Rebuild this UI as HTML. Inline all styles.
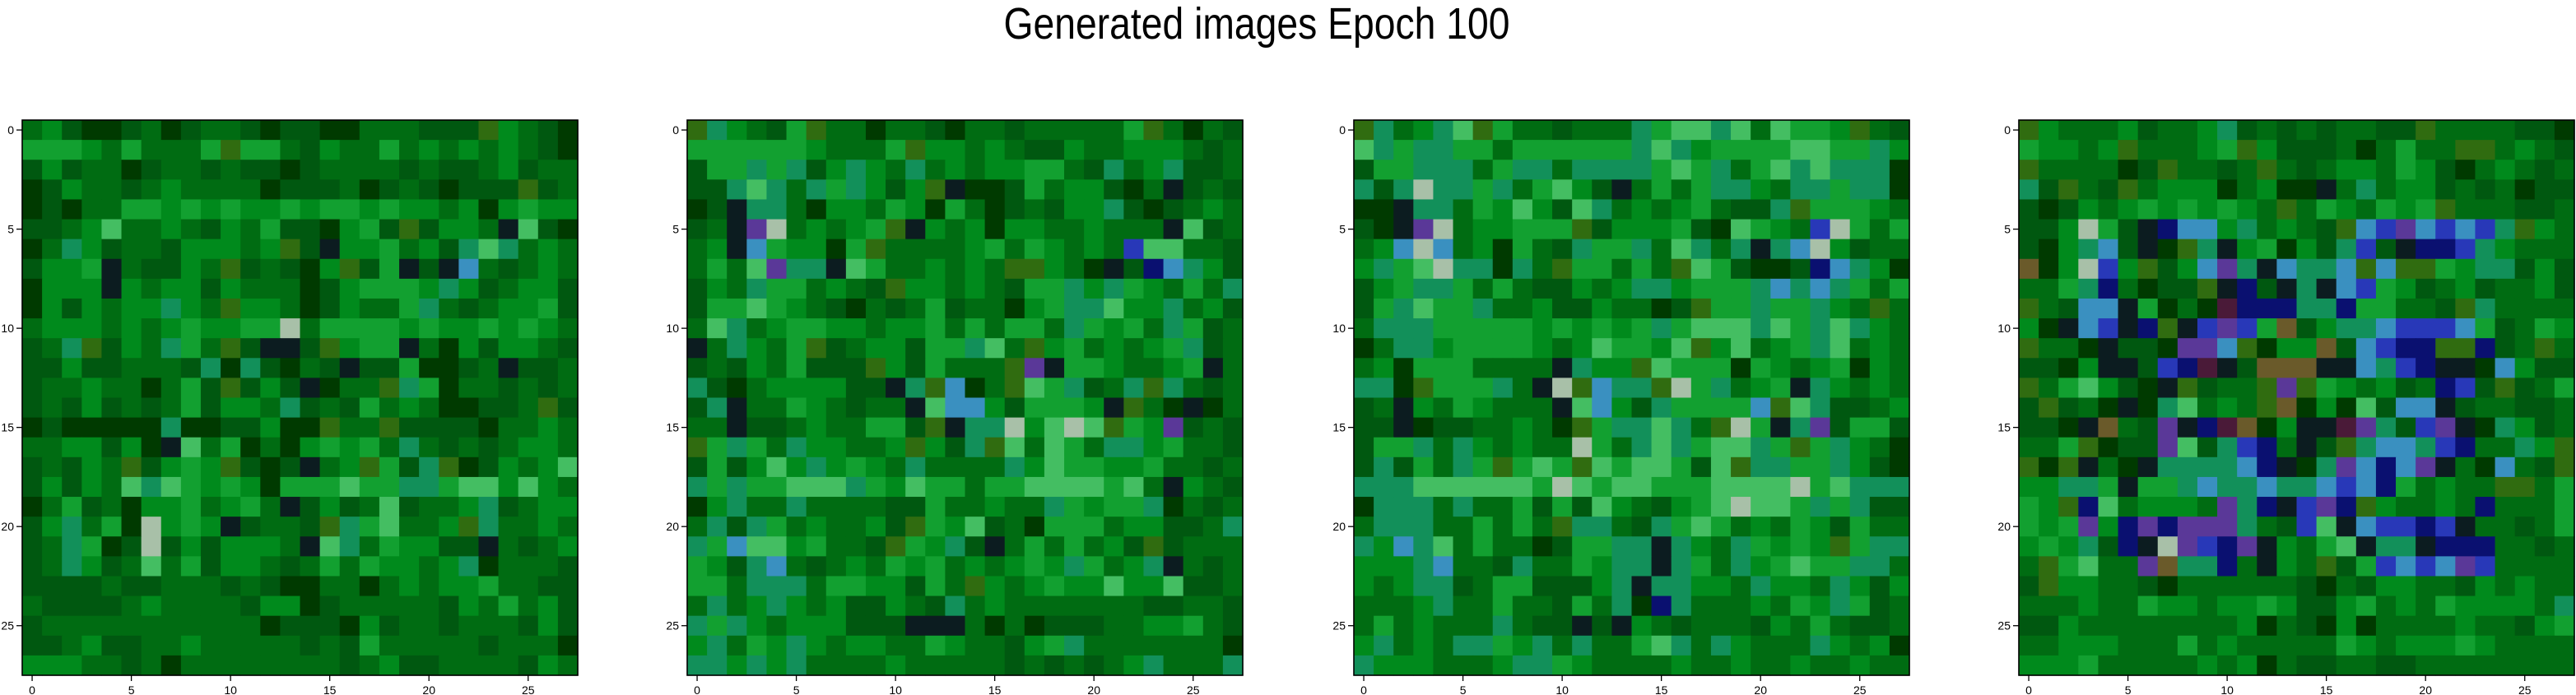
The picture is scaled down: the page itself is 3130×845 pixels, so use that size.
<!DOCTYPE html>
<html><head><meta charset="utf-8"><title>Generated images Epoch 100</title>
<style>html,body{margin:0;padding:0;background:#fff;}svg{display:block;}</style></head>
<body>
<svg id="fig" width="3130" height="845" xmlns="http://www.w3.org/2000/svg">
<rect width="3130" height="845" fill="#fff"/>
<text x="1527" y="47" font-family="Liberation Sans, DejaVu Sans, sans-serif" font-size="54" text-anchor="middle" textLength="615" lengthAdjust="spacingAndGlyphs">Generated images Epoch 100</text>
</svg>
<script>
// palette codes -> colours
const paletteKeys = ['d','a','b','g','c','e','t','k','p','n','m','w','y','s','o','h'];
const paletteColors = ['#003a00','#005810','#006c12','#008a1c','#12a030','#44be62','#12905a','#0c1c20','#2838b8','#0a1070','#5a3898','#a8c0a8','#306c10','#3a90c0','#4a1a38','#6a5a2a'];
const tickValues = [0,5,10,15,20,25];
const gridSize = 28;
const panelLefts = [27, 835, 1645, 2453];
const img1 = [
"bgaddabdabbadaaddbbbaaaygbad","cccgbcbbbcyccbagbbcbgbgbgbad","agabbdabbabaadabbbbabaabgabb","dagbbabgbbbbdaaabdabadaaaya",
"dadbbccgcgcggcgccgcggbgdgcgg","aabgebbgbagbcaadgcayaggbkead","dbtgabbagggbgyakggcbgatetbgb","aggckbaagbyabadgyackaksbabgb",
"dgggkgbggagbbbdagcccgtgabgga","dgagbggtgbyggbdagbbctbabggca","bgggbgbgcggccwbccccgcggcgcgb","abtyagbtcbyakkaygcckbdgaggba",
"aagaabbbatdtadbakaacddabkaab","abbgbbdbcayagakdbbytcdbbabab","abagababcaggbtabacbgbddaabya","dadddddtddaagddybbyaaaadbbgb",
"bbggagdkebcdbdgcgcbtbababggb","abagbyagcgyadakbgycatydagbge","agagbetecgcgdccceccttceegegbb","dbcabdggcbgcbkagabeabbgtabgg",
"agtbcdwgcgkabbaytcebbgytbbgb","abtcdawagagggbketbcggaakbabg","abtgabebcaggbabcbcggbgtdbbba","aaaabaabbbabaddbbdbgbggcbbaa",
"baaaabgbbbbaggdabbbbbagbcbga","abbbbbbbbbbbdaaadgabbabbbaga","aabgaabbgbbbbbabacbbbbbabbbd","gggbbabdbbbbbbbbabgaabbbbagb"];
const img2 = [
"ytgbacybbdbbadbbabbbbbcybdba","ccccccgbbbcyggbgbaagbbgggbab","acctctagtgbtbgbggccbatbgtaab","aatetbtctgagykddacbggadbkaba",
"dakttbdggbcgdcbdabaggtadabgb","abkmwbgbgcykgbgdggbbgbbbkeab","bgkscggdcybbbbgcbcgbgbpeebba","bcbemttkecbbgbgbyygbdkanstga",
"agbtccbgbayggbgbacctgtcgbcbt","accecgbadbabcabbdgctteggtbga","betbgccggbggcbcbccbtcgcbtcab","kbtgbcyabggacctebygcbgbgctab",
"abagbcaaaygacbbbymkccgbbgckb","tadbggggaaktysdbyectabtytbab","atkbbcgbabbkessgacccgkybdkdb","bbkaabgbbccaykttwgeweycgmaba",
"yctcbtggbbgygatyebecbttgcbba","acagegtgcgbtbbbbtgeccggcbbab","tctcceeetcgeccbcceeeecebkgba","dgtbbtbbbbaacbbgbbtcgcctdbab",
"btatcbgbbgaycgeabdcccbggaabt","tcseegcbbaycgtakbcbcbgayabbb","cgatsbabgbcgcbgbgcgtcbgtkbab","ccbtttbccggacbygbgcggeggeaab",
"btbgtgbgaagbatbgbbbbbbbaabba","tctgbgggaaakkkbdbdaaabbggcba","gtbcgtgbggbbcgbbagctbbbbbbbd","ttgtgtbbbbgbbbbbabababgtbbbt"];
const img3 = [
"ytbgteycbbabbbtceetebeccgyba","etcttccbcccccctetgcccceecctg","acctttbcttbttttcectbcetetttd","tatwttctbcegakbcbcttgbttcttd",
"ddkttbcgegaetbgbgcbaatycccgb","adkmwbggcccyagggcadecgbpwcbc","bgswsbgdcbatcctbetbtktswgabb","gtcewttdtbyccbcbyecaddanstgd",
"agcttcbcbaagbgttgccctststcbc","actecctbbgaagbbdaycctcctgby","btttcccccgcgcgctceeetectetgb","dbttgccccgbgeccgeygebgctebgb",
"bgdcccbbbbktggyecccdcgbgcdgb","ttdyccctbkwysttywctbgcktgbgbb","abkgbcgbbbkesgatccccsyetaabg","aakdaabbgbdycttetbywcktmaccaa",
"acctbtgbgbbwcbtetceetcyctgbd","atacbtcycecyeceecaeyttcctgad","ttteeeeeecweceeccceeeewcetttd","dtttbtbbcacaegbagceweectctaad",
"btttbbcbcbyttbatcecbgbcgacbb","tgstebcbbdaccttktgbtcgcgycttb","gggtsbbatbbcgttktcbtgceccttb","gbgttabccaaagtkttggbtggbtgag",
"bbbgtbbcbbacbtdntbbbgbcgtcab","bcbgbbbtbaakakgbabbbagbcbaab","gtbgbttcgtbtbbcetbtgbbbtgbgd","tgggbbbgttcgbbbbgbbgbbgbbgbb"];
const img4 = [
"ygbbbgabbgtabababbaaybbbbaad","cggbgybbbgcygaaabdbcbbyybgbad","ybbbbdaybbabybabggbcgadbgbab","taybaybgggdbgddkbtbggababdaa",
"adagbgcgcgcgbybcgbcgcybbbaab","aagwcaknssgtbgbayspmspsptygb","adgtsakdytkgcdgatpaknnptgbbb","hdgwpgyagsmtksttsysyycgttagad",
"bbctnbdaayknaktkspcgabgabbgab","ybasskcdbdonnnttnccbbaytbbbb","gdkspknykpmpchagttspppscabcgb","ybbdkaadmmsydgghaspnnyynabybb",
"aadgkkapnokahhhkkstpnkkdsgaab","ybcegadkyabbymycgbgabnpayabcb","ayabdkdtebgbyhdgdeasskabbaab","aadkhbamknohdgkkomtapmkdtgabb",
"bbcydaameatpnbkaytsstpnbbtgyg","ydykbdkttttsnkdtmsnsmkbdsbayb","ggttckcctsttsttspsncbgbbyybc","cgynebgggbmtnkpmnygbbgbnbbbc",
"cgcmgnmnmmmtbapeksppnpkbbabc","gcgtankwmpnmkgbcekttknnnbbabb","bycebbmhttnbkgbyacpspsmpbbbbb","ayggbbadbbbbbbadbaggbbagbgbba",
"bbbgbbcggbggcgaagcbgbcggggbt","aagbbbbbbbbgdbadgdbbbbgbbagc","bbgggbbbcbgbbbbbcgbgggcgbbbba","gggcbbbbbgbgdbaabbaabbbbbbbbab"];
const panels = [img1, img2, img3, img4];

const svg = document.getElementById('fig');
const NS = 'http://www.w3.org/2000/svg';
const W = 675;
const cell = W / gridSize;
const top0 = 146;
function colorOf(ch){ const i = paletteKeys.indexOf(ch); return i < 0 ? paletteColors[2] : paletteColors[i]; }
function xPos(left, v){ return left + (v + 0.5) * cell; }
function yPos(v){ return top0 + (v + 0.5) * cell; }

panels.forEach((rows, p) => {
  const left = panelLefts[p];
  const g = document.createElementNS(NS, 'g');
  
  
  svg.appendChild(g);
  for (let r = 0; r < gridSize; r++) {
    const row = rows[r] || '';
    for (let c = 0; c < gridSize; c++) {
      const ch = row[c] || 'b';
      const rect = document.createElementNS(NS, 'rect');
      rect.setAttribute('x', (left + c * cell).toFixed(2));
      rect.setAttribute('y', (top0 + r * cell).toFixed(2));
      rect.setAttribute('width', (cell + 0.6).toFixed(2));
      rect.setAttribute('height', (cell + 0.6).toFixed(2));
      rect.setAttribute('fill', colorOf(ch));
      
      
      g.appendChild(rect);
    }
  }
  const frame = document.createElementNS(NS, 'rect');
  frame.setAttribute('x', left); frame.setAttribute('y', top0);
  frame.setAttribute('width', W); frame.setAttribute('height', W);
  frame.setAttribute('fill', 'none'); frame.setAttribute('stroke', '#000'); frame.setAttribute('stroke-width', '1.6');
  
  
  g.appendChild(frame);
  tickValues.forEach(v => {
    const tx = xPos(left, v), ty = yPos(v);
    const xt = document.createElementNS(NS, 'line');
    xt.setAttribute('x1', tx); xt.setAttribute('x2', tx);
    xt.setAttribute('y1', top0 + W); xt.setAttribute('y2', top0 + W + 7);
    xt.setAttribute('stroke', '#000'); xt.setAttribute('stroke-width', '1.3');
    
    
    g.appendChild(xt);
    const xl = document.createElementNS(NS, 'text');
    xl.setAttribute('x', tx); xl.setAttribute('y', top0 + W + 23);
    xl.setAttribute('text-anchor', 'middle'); xl.setAttribute('font-size', '14');
    xl.setAttribute('font-family', 'Liberation Sans, DejaVu Sans, sans-serif');
    xl.textContent = v;
    
    
    g.appendChild(xl);
    const yt = document.createElementNS(NS, 'line');
    yt.setAttribute('x1', left - 7); yt.setAttribute('x2', left);
    yt.setAttribute('y1', ty); yt.setAttribute('y2', ty);
    yt.setAttribute('stroke', '#000'); yt.setAttribute('stroke-width', '1.3');
    
    
    g.appendChild(yt);
    const yl = document.createElementNS(NS, 'text');
    yl.setAttribute('x', left - 10); yl.setAttribute('y', ty + 5);
    yl.setAttribute('text-anchor', 'end'); yl.setAttribute('font-size', '14');
    yl.setAttribute('font-family', 'Liberation Sans, DejaVu Sans, sans-serif');
    yl.textContent = v;
    
    
    g.appendChild(yl);
  });
});
</script>
</body></html>
